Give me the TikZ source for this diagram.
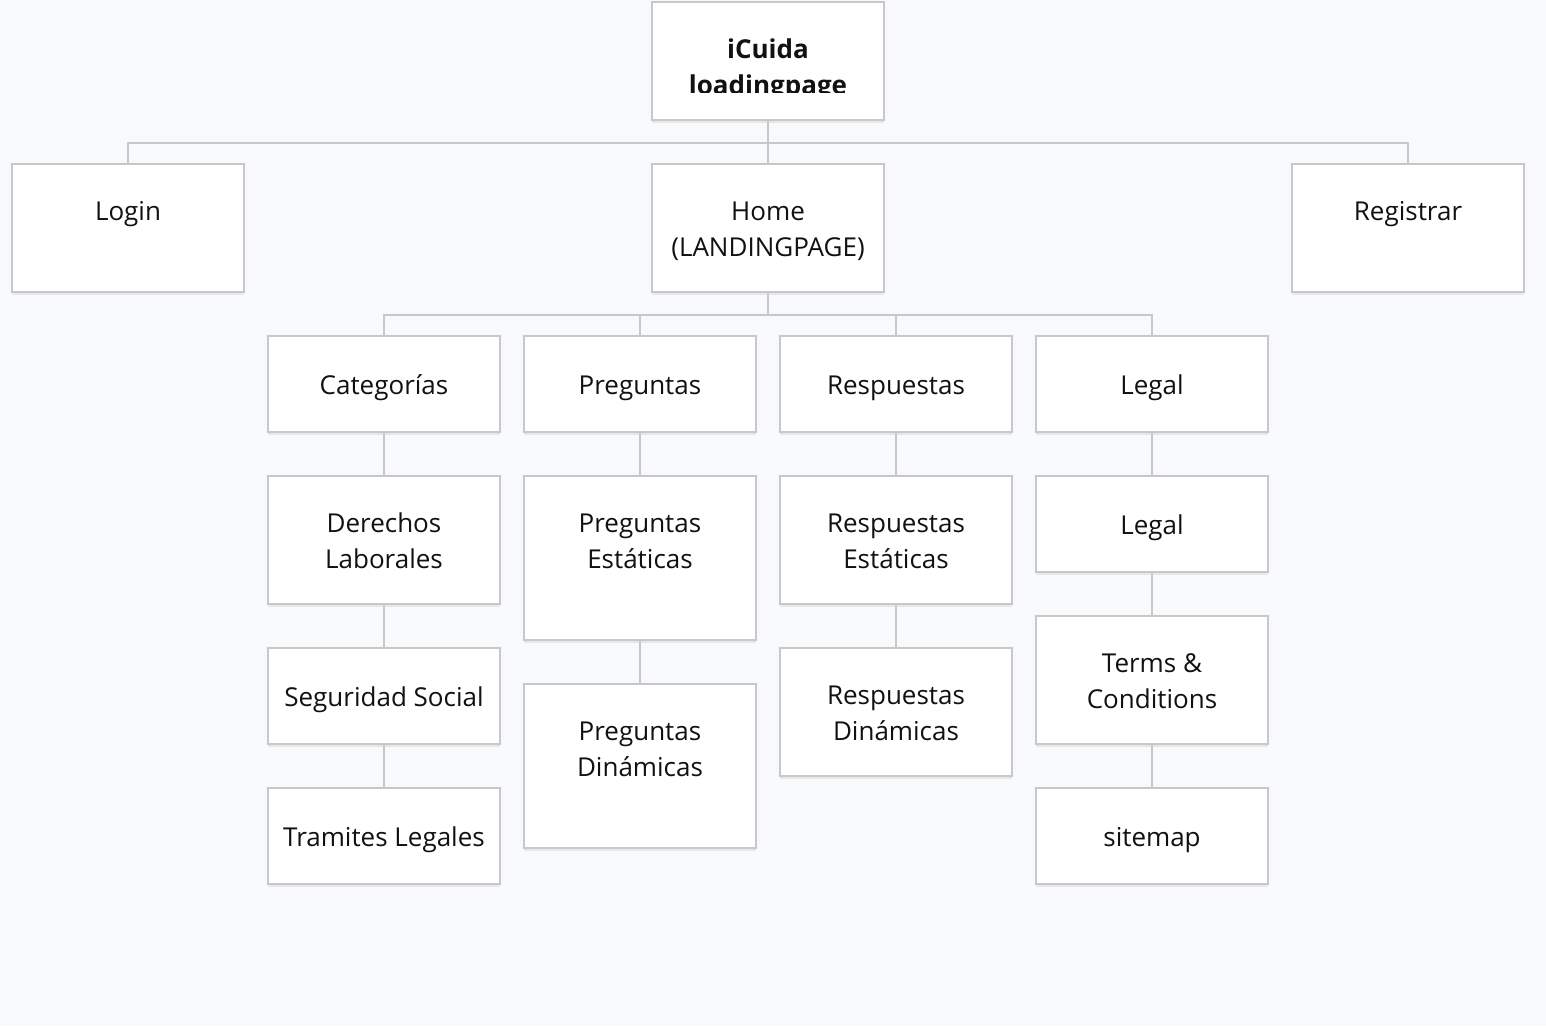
\documentclass[tikz,border=0pt]{standalone}
\usepackage{fontspec}
\setmainfont{Open Sans}
\usetikzlibrary{shadows}
\definecolor{bg}{RGB}{248,249,251}
\definecolor{ln}{RGB}{200,200,202}
\definecolor{tx}{RGB}{17,17,17}
\tikzset{
 box/.style={draw=ln, line width=1.5pt, fill=white, minimum width=174pt, inner sep=0pt,
   drop shadow={shadow xshift=0pt, shadow yshift=-2pt, opacity=0.07, fill=black}},
 txt/.style={align=center, font=\fontsize{19.5pt}{27pt}\selectfont, text=tx, inner sep=0pt, text height=14pt, anchor=north},
 conn/.style={draw=ln, line width=1.5pt},
}
% name, cx, top, height, offset of last text line centre, text
\newcommand\bx[6]{%
 \node[box, minimum height={(#4-2)*0.75pt}] (#1) at ({#2},{#3+#4/2}) {};
 \node[txt] (#1t) at ({#2},{#3+#5-9.3}) {#6};
}
\begin{document}
\begin{tikzpicture}[x=0.75pt,y=-0.75pt]
\useasboundingbox (0,0) rectangle (1546,1026);
\fill[bg] (0,0) rectangle (1546,1026);
\coordinate (b1) at (768,143);
\coordinate (b2) at (768,315);
% top node
\node[box, minimum height={118*0.75pt}] (top) at (768,61) {};
\begin{scope}
\clip (651,1) rectangle (885,92);
\node[txt, font=\fontsize{19.5pt}{27pt}\selectfont\bfseries] (topt) at (768,{85-9.3}) {iCuida\\loadingpage};
\end{scope}
\bx{login}{128}{163}{130}{48}{Login}
\bx{home}{768}{163}{130}{84}{Home\\(LANDINGPAGE)}
\bx{reg}{1408}{163}{130}{48}{Registrar}
% column 1
\bx{cat}{384}{335}{98}{50}{Categorías}
\bx{der}{384}{475}{130}{84}{Derechos\\Laborales}
\bx{seg}{384}{647}{98}{50}{Seguridad Social}
\bx{tram}{384}{787}{98}{50}{Tramites Legales}
% column 2
\bx{preg}{640}{335}{98}{50}{Preguntas}
\bx{pe}{640}{475}{166}{84}{Preguntas\\Estáticas}
\bx{pd}{640}{683}{166}{84}{Preguntas\\Dinámicas}
% column 3
\bx{resp}{896}{335}{98}{50}{Respuestas}
\bx{re}{896}{475}{130}{84}{Respuestas\\Estáticas}
\bx{rd}{896}{647}{130}{84}{Respuestas\\Dinámicas}
% column 4
\bx{leg}{1152}{335}{98}{50}{Legal}
\bx{leg2}{1152}{475}{98}{50}{Legal}
\bx{terms}{1152}{615}{130}{84}{Terms \&\\Conditions}
\bx{site}{1152}{787}{98}{50}{sitemap}
% connectors
\draw[conn] (top.south) -- (home.north);
\draw[conn] (login.north) -- (login.north |- b1) -- (reg.north |- b1) -- (reg.north);
\draw[conn] (home.south) -- (home.south |- b2);
\draw[conn] (cat.north) -- (cat.north |- b2) -- (leg.north |- b2) -- (leg.north);
\draw[conn] (preg.north) -- (preg.north |- b2);
\draw[conn] (resp.north) -- (resp.north |- b2);
\draw[conn] (cat.south) -- (der.north);
\draw[conn] (der.south) -- (seg.north);
\draw[conn] (seg.south) -- (tram.north);
\draw[conn] (preg.south) -- (pe.north);
\draw[conn] (pe.south) -- (pd.north);
\draw[conn] (resp.south) -- (re.north);
\draw[conn] (re.south) -- (rd.north);
\draw[conn] (leg.south) -- (leg2.north);
\draw[conn] (leg2.south) -- (terms.north);
\draw[conn] (terms.south) -- (site.north);
\end{tikzpicture}
\end{document}
